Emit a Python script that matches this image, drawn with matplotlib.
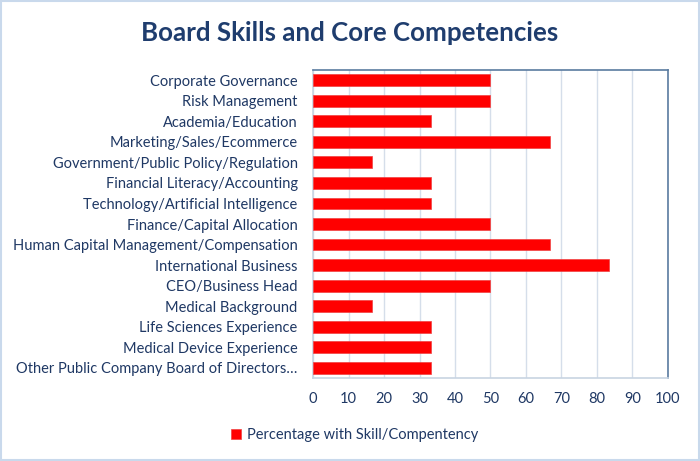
import matplotlib
matplotlib.use("Agg")
import matplotlib.pyplot as plt
from matplotlib.patches import Rectangle

categories = [
    "Corporate Governance",
    "Risk Management",
    "Academia/Education",
    "Marketing/Sales/Ecommerce",
    "Government/Public Policy/Regulation",
    "Financial Literacy/Accounting",
    "Technology/Artificial Intelligence",
    "Finance/Capital Allocation",
    "Human Capital Management/Compensation",
    "International Business",
    "CEO/Business Head",
    "Medical Background",
    "Life Sciences Experience",
    "Medical Device Experience",
    "Other Public Company Board of Directors…",
]
values = [50, 50, 33.3, 66.7, 16.7, 33.3, 33.3, 50, 66.7, 83.3, 50, 16.7, 33.3, 33.3, 33.3]
xticks = [0, 10, 20, 30, 40, 50, 60, 70, 80, 90, 100]
series_name = "Percentage with Skill/Compentency"

plt.rcParams['font.family'] = ['Lato', 'DejaVu Sans']
txt = '#1F3864'

fig = plt.figure(figsize=(7, 4.61), dpi=100)
ax = fig.add_axes([313/700, 1-378/461, (668-313)/700, (378-70)/461])

ypos = list(range(len(categories)))
ax.barh(ypos, values, height=0.58, color='#FF0000', edgecolor='#F04040', linewidth=0.5,
        label=series_name, zorder=3)
ax.set_ylim(len(categories)-0.5, -0.5)
ax.set_xlim(0, 100)
ax.set_xticks(xticks)
ax.set_yticks(ypos)
ax.set_yticklabels(categories)
ax.tick_params(axis='both', length=0, colors=txt, labelsize=10.5)
ax.tick_params(axis='x', pad=10)
ax.tick_params(axis='y', pad=11)
ax.grid(axis='x', color='#D5DEEA', linewidth=1, zorder=0)
for s in ['top', 'right']:
    ax.spines[s].set_color('#5A7BA0')
    ax.spines[s].set_linewidth(1.2)
for s in ['left', 'bottom']:
    ax.spines[s].set_color('#C8D4E2')
    ax.spines[s].set_linewidth(1.2)

fig.text(0.5, 1-33/461, "Board Skills and Core Competencies", ha='center', va='center',
         fontsize=18.6, fontweight='bold', color='#1F3D6E')

leg = fig.legend(loc='center left', bbox_to_anchor=(231/700, 1-435/461), frameon=False,
                 fontsize=10.5, handlelength=0.7, handleheight=0.7, handletextpad=0.4,
                 borderaxespad=0, borderpad=0)
for t in leg.get_texts():
    t.set_color(txt)

fig.patches.append(Rectangle((0.002, 0.003), 0.996, 0.994, transform=fig.transFigure,
                             fill=False, edgecolor='#C9D9EC', linewidth=1.5))

fig.savefig("out.png", dpi=100)
